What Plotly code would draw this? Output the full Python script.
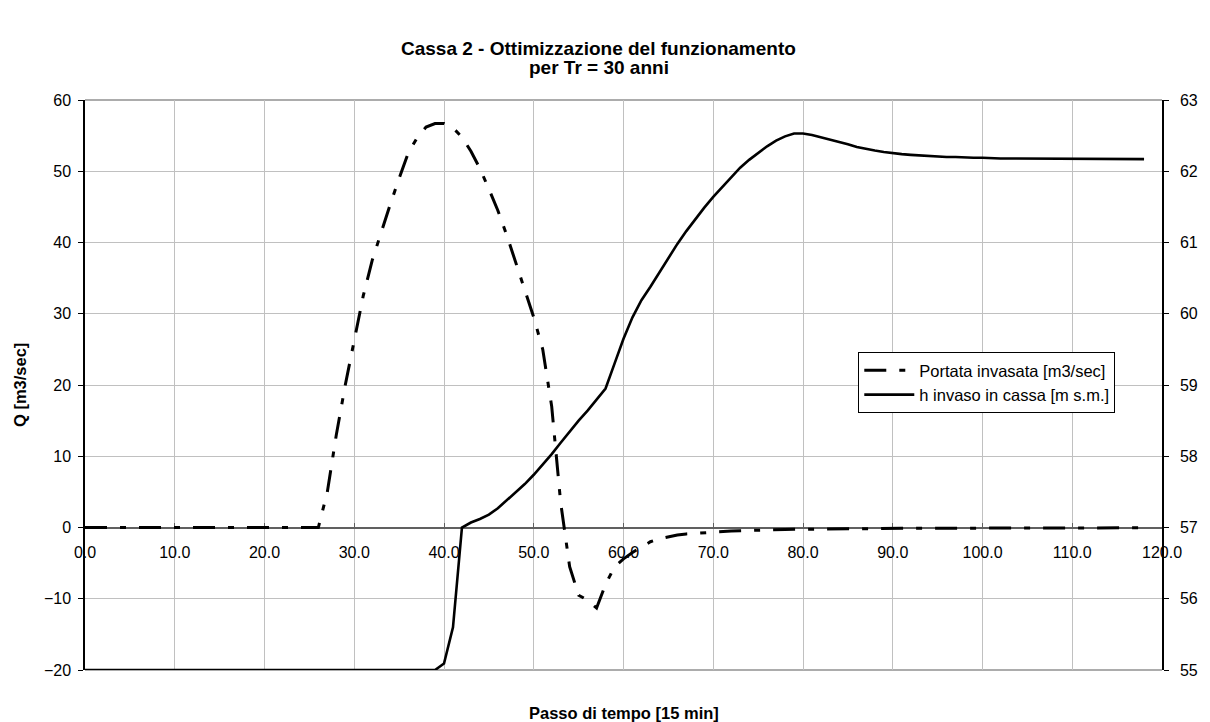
import plotly.graph_objects as go

# Passo di tempo (15 min steps)
steps = list(range(0, 119))

# Portata invasata [m3/sec]
portata = (
    [0.0] * 27                       # steps 0-26
    + [5.0, 13.0, 20.0, 26.0, 32.5, 37.5, 41.5, 45.3, 49.0, 52.5,   # 27-36
       54.7, 56.2, 56.7, 56.7, 56.1, 54.8, 52.8, 50.4, 47.5, 44.5,  # 37-46
       41.0, 37.2, 33.3, 29.5, 25.0, 17.0, 3.5, -5.5, -9.5, -10.2,  # 47-56
       -11.3, -8.0, -5.5, -4.4, -3.5, -2.7, -2.0, -1.6, -1.3, -1.05,  # 57-66
       -0.9, -0.8, -0.7, -0.6, -0.55, -0.5, -0.45, -0.4, -0.37, -0.34,  # 67-76
       -0.31, -0.28, -0.26, -0.24, -0.22, -0.2, -0.19, -0.18, -0.17, -0.16,  # 77-86
       -0.15, -0.14, -0.13, -0.12, -0.12, -0.11, -0.11, -0.1, -0.1, -0.09,  # 87-96
       -0.09, -0.08, -0.08, -0.08, -0.07, -0.07, -0.07, -0.06, -0.06, -0.06,  # 97-106
       -0.06, -0.05, -0.05, -0.05, -0.05, -0.05, -0.04, -0.04, -0.04, -0.04,  # 107-116
       -0.04, -0.04]                                                     # 117-118
)

# h invaso in cassa [m s.m.]
livello = (
    [55.0] * 40                      # steps 0-39
    + [55.09, 55.6, 57.0, 57.07, 57.12, 57.18, 57.27, 57.38, 57.49, 57.61,  # 40-49
       57.74, 57.88, 58.03, 58.19, 58.35, 58.5, 58.64, 58.79, 58.95, 59.3,  # 50-59
       59.65, 59.95, 60.19, 60.38, 60.58, 60.79, 60.98, 61.16, 61.33, 61.49,  # 60-69
       61.64, 61.78, 61.92, 62.05, 62.16, 62.26, 62.35, 62.43, 62.49, 62.53,  # 70-79
       62.53, 62.51, 62.48, 62.45, 62.42, 62.38, 62.34, 62.31, 62.29, 62.27,  # 80-89
       62.25, 62.24, 62.23, 62.22, 62.21, 62.21, 62.2, 62.2, 62.19, 62.19,  # 90-99
       62.19, 62.18, 62.18, 62.18, 62.18, 62.17, 62.17, 62.17, 62.17, 62.17,  # 100-109
       62.17, 62.17, 62.17, 62.17, 62.17, 62.17, 62.17, 62.17, 62.17]  # 110-118
)

x_ticks = list(range(0, 121, 10))
x_ticktext = [f"{v:.1f}" for v in x_ticks]

FONT = "Liberation Sans, Arial, sans-serif"
GRID = "#c0c0c0"
TICK_SIZE = 16

fig = go.Figure()

fig.add_trace(go.Scatter(
    x=steps, y=portata, mode="lines", name="Portata invasata [m3/sec]",
    line=dict(color="black", width=3, dash="22px,13px,6px,13px"),
    yaxis="y",
))
fig.add_trace(go.Scatter(
    x=steps, y=livello, mode="lines", name="h invaso in cassa [m s.m.]",
    line=dict(color="black", width=2.6),
    yaxis="y2",
))

fig.update_layout(
    width=1210, height=722,
    margin=dict(l=85, r=44, t=100, b=52),
    paper_bgcolor="white", plot_bgcolor="white",
    font=dict(family=FONT, size=TICK_SIZE, color="black"),
    showlegend=True,
    legend=dict(
        x=0.718, y=0.558, xanchor="left", yanchor="top",
        bgcolor="white", bordercolor="black", borderwidth=1,
        font=dict(family=FONT, size=16.5, color="black"),
        itemwidth=50, tracegroupgap=0,
    ),
    xaxis=dict(
        range=[0, 120], tickmode="array", tickvals=x_ticks, ticktext=x_ticktext,
        showgrid=True, gridcolor=GRID, gridwidth=1,
        zeroline=False,
        anchor="free", position=0.25,
        showline=True, linecolor="#606060", linewidth=1.5,
        ticks="inside", ticklen=4, tickcolor="#606060",
        ticklabelstandoff=11,
        layer="below traces",
        tickfont=dict(family=FONT, size=TICK_SIZE, color="black"),
    ),
    yaxis=dict(
        range=[-20, 60], dtick=10,
        showgrid=True, gridcolor=GRID, gridwidth=1,
        zeroline=False,
        showline=True, linecolor="black", linewidth=1.5,
        ticks="outside", ticklen=5, tickcolor="black",
        ticklabelstandoff=4,
        layer="below traces",
        tickfont=dict(family=FONT, size=TICK_SIZE, color="black"),
    ),
    yaxis2=dict(
        range=[55, 63], dtick=1, overlaying="y", side="right",
        showgrid=False, zeroline=False,
        showline=True, linecolor="black", linewidth=1.5,
        ticks="outside", ticklen=5, tickcolor="black",
        ticklabelstandoff=8,
        layer="below traces",
        tickfont=dict(family=FONT, size=TICK_SIZE, color="black"),
    ),
    shapes=[
        dict(type="line", xref="paper", yref="paper", x0=0, x1=1, y0=1, y1=1,
             line=dict(color="#909090", width=1.5), layer="below"),
        dict(type="line", xref="paper", yref="paper", x0=0, x1=1, y0=0, y1=0,
             line=dict(color="#909090", width=1.5), layer="below"),
    ],
    annotations=[
        dict(text="<b>Cassa 2 - Ottimizzazione del funzionamento</b>",
             xref="paper", yref="paper", x=0.477, y=1, xanchor="center",
             yanchor="middle", yshift=52, showarrow=False,
             font=dict(family=FONT, size=19, color="black")),
        dict(text="<b>per Tr = 30 anni</b>",
             xref="paper", yref="paper", x=0.477, y=1, xanchor="center",
             yanchor="middle", yshift=33, showarrow=False,
             font=dict(family=FONT, size=19, color="black")),
        dict(text="<b>Q [m3/sec]</b>", textangle=-90,
             xref="paper", yref="paper", x=0, y=0.5, xanchor="center",
             yanchor="middle", xshift=-65, showarrow=False,
             font=dict(family=FONT, size=16.5, color="black")),
        dict(text="<b>Passo di tempo [15 min]</b>",
             xref="paper", yref="paper", x=0.5, y=0, xanchor="center",
             yanchor="middle", yshift=-43, showarrow=False,
             font=dict(family=FONT, size=16.5, color="black")),
    ],
)

fig.write_html("out.html")
